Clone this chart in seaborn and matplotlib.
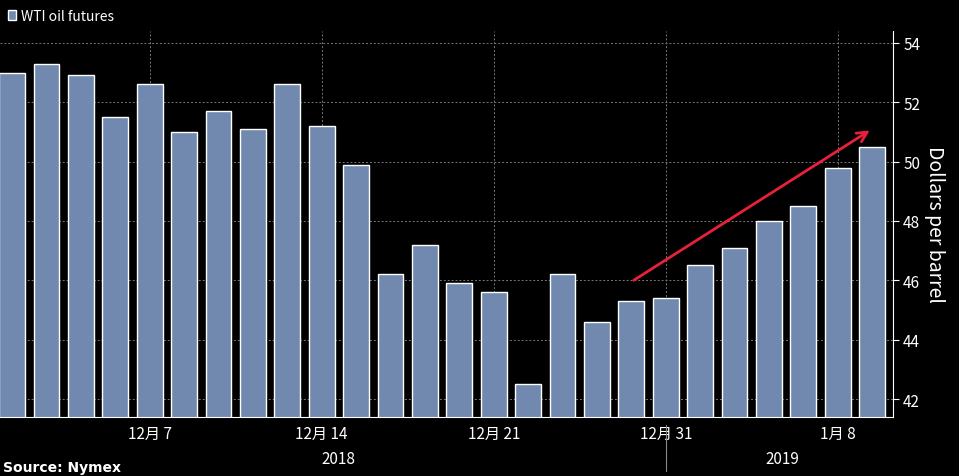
import pandas as pd
import seaborn as sns
import matplotlib.pyplot as plt

# -----------------------------
# DATA
# -----------------------------
days = ["12-03", "12-04", "12-05", "12-06", "12-07", "12-10", "12-11", "12-12", "12-13",
        "12-14", "12-17", "12-18", "12-19", "12-20", "12-21", "12-24", "12-26", "12-27",
        "12-28", "12-31", "01-02", "01-03", "01-04", "01-07", "01-08", "01-09"]
prices = [53.0, 53.3, 52.9, 51.5, 52.6, 51.0, 51.7, 51.1, 52.6, 51.2, 49.9, 46.2, 47.2,
          45.9, 45.6, 42.5, 46.2, 44.6, 45.3, 45.4, 46.5, 47.1, 48.0, 48.5, 49.8, 50.5]
tick_days = ["12-07", "12-14", "12-21", "12-31", "01-08"]
tick_labels = ["12月 7", "12月 14", "12月 21", "12月 31", "1月 8"]
yticks = [42, 44, 46, 48, 50, 52, 54]

df = pd.DataFrame({"day": days, "price": prices})

sns.set_style("dark")
plt.rcParams["font.family"] = ["Noto Sans CJK SC", "DejaVu Sans"]

fig = plt.figure(figsize=(9.59, 4.77), dpi=100, facecolor="black")
ax = fig.add_axes([0.0, 0.124, 0.931, 0.809], facecolor="black")

sns.barplot(data=df, x="day", y="price", color="#7189ae", saturation=1,
            width=0.75, ax=ax, label="WTI oil futures")

ax.set_ylim(41.4, 54.4)
ax.set_xlim(-0.35, len(days) - 0.4)
ax.yaxis.tick_right()
ax.yaxis.set_label_position("right")
ax.set_yticks(yticks)
ax.set_yticklabels([str(v) for v in yticks], color="white", fontsize=11)
ax.set_ylabel("Dollars per barrel", color="white", fontsize=14, rotation=270, labelpad=18)
ax.set_xlabel("")

tick_pos = [days.index(d) for d in tick_days]
ax.set_xticks(tick_pos)
ax.set_xticklabels(tick_labels, color="white", fontsize=11)
ax.tick_params(axis="x", length=4, color="white", pad=2)
ax.tick_params(axis="y", length=4, color="white")

for v in yticks:
    ax.axhline(v, color="#777777", ls=(0, (2, 2)), lw=0.7, zorder=0)
for p in tick_pos:
    ax.axvline(p, color="#777777", ls=(0, (2, 2)), lw=0.7, zorder=0)

for s in ["top", "left"]:
    ax.spines[s].set_visible(False)
ax.spines["bottom"].set_color("white")
ax.spines["right"].set_color("white")
ax.spines["bottom"].set_visible(True)
ax.spines["right"].set_visible(True)

# year labels and separator
ax.text(9.5, -0.085, "2018", transform=ax.get_xaxis_transform(), color="white",
        fontsize=11, ha="center", va="top")
ax.text(22.4, -0.085, "2019", transform=ax.get_xaxis_transform(), color="white",
        fontsize=11, ha="center", va="top")
ax.plot([19.0, 19.0], [-0.02, -0.14], transform=ax.get_xaxis_transform(),
        color="#888888", lw=0.8, clip_on=False)

# red trend arrow
ax.annotate("", xy=(25.0, 51.1), xytext=(18.0, 45.95),
            arrowprops=dict(arrowstyle="->", color="#e8203a", lw=2, mutation_scale=18))

leg = ax.legend(loc="upper left", bbox_to_anchor=(-0.005, 1.09), frameon=False,
                fontsize=10, handlelength=0.6, handleheight=0.8, handletextpad=0.3)
for t in leg.get_texts():
    t.set_color("white")

fig.text(0.003, 0.01, "Source: Nymex", color="white", fontsize=10, weight="bold",
         family="DejaVu Sans")

fig.savefig("out.png", dpi=100, facecolor="black")
